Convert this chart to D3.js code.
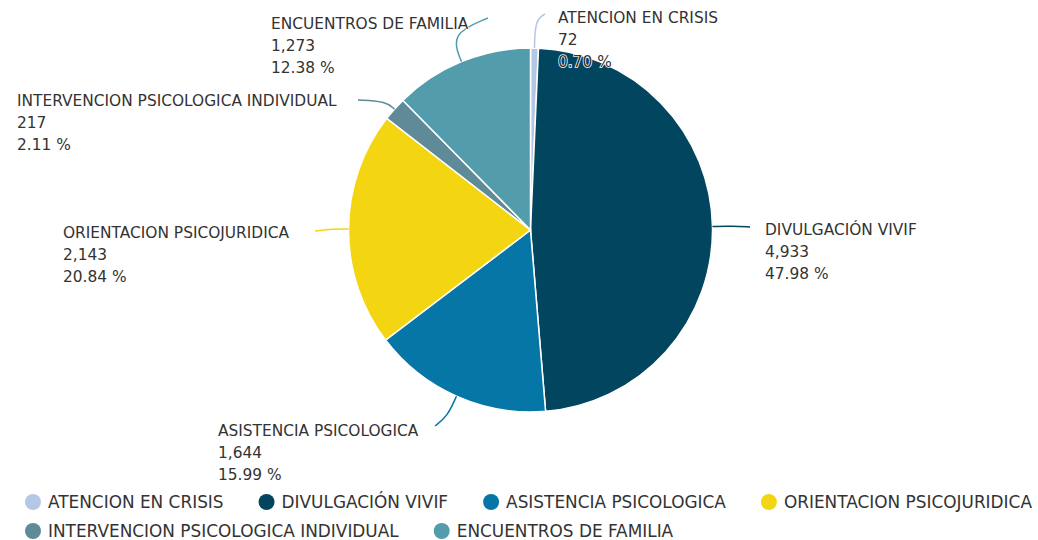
<!DOCTYPE html>
<html><head><meta charset="utf-8">
<script src="https://cdn.jsdelivr.net/npm/d3@7/dist/d3.min.js"></script>
<style>
body{margin:0;background:#fff;}
text{font-family:"DejaVu Sans",sans-serif;fill:#333;}
</style></head>
<body><svg id="chart" width="1038" height="540"></svg>
<script>
const categories = ["ATENCION EN CRISIS","DIVULGACIÓN VIVIF","ASISTENCIA PSICOLOGICA","ORIENTACION PSICOJURIDICA","INTERVENCION PSICOLOGICA INDIVIDUAL","ENCUENTROS DE FAMILIA"];
const values = [72, 4933, 1644, 2143, 217, 1273];
const percents = ["0.70 %","47.98 %","15.99 %","20.84 %","2.11 %","12.38 %"];
const colors = ["#B4C8E6","#01455F","#0676A6","#F4D512","#5E8B97","#529CAB"];

// label layout (annotation positions)
const labelLayout = [
  {ext:28, end:[545,14], tx:558, ty:18},
  {ext:20, end:[750,227], tx:765, ty:230},
  {ext:22, end:[435,426], tx:218, ty:431},
  {ext:16, end:[315,231], tx:63, ty:233},
  {ext:12, end:[358,100], tx:17, ty:101},
  {ext:30, end:[488,18], tx:271, ty:24}
];

const svg = d3.select("#chart");
const cx = 530.5, cy = 230, R = 182;

const pie = d3.pie().sort(null).value(d => d);
const arcs = pie(values);
const arc = d3.arc().innerRadius(0).outerRadius(R);

const g = svg.append("g").attr("transform", `translate(${cx},${cy})`);
g.selectAll("path.slice").data(arcs).enter().append("path")
  .attr("class","slice")
  .attr("d", arc)
  .attr("fill", (d,i) => colors[i])
  .attr("stroke", "#fff").attr("stroke-width", 1.5);

// leaders
const line = d3.line().curve(d3.curveBasis);
arcs.forEach((a,i) => {
  const mid = (a.startAngle + a.endAngle)/2;
  const L = labelLayout[i];
  const p0 = [cx + R*Math.sin(mid), cy - R*Math.cos(mid)];
  const p1 = [cx + (R+L.ext)*Math.sin(mid), cy - (R+L.ext)*Math.cos(mid)];
  svg.append("path").attr("d", line([p0, p1, L.end]))
    .attr("fill","none").attr("stroke", colors[i]).attr("stroke-width", 1.5);
});

// labels
const fmt = d3.format(",");
arcs.forEach((a,i) => {
  const L = labelLayout[i];
  const t = svg.append("text").attr("x", L.tx).attr("y", L.ty).attr("font-size", 15.4)
    .attr("dominant-baseline","middle")
    .attr("stroke","#fff").attr("stroke-width",1.5).attr("paint-order","stroke");
  [categories[i], fmt(values[i]), percents[i]].forEach((s,k) => {
    t.append("tspan").attr("x", L.tx).attr("dy", k===0 ? 0 : 22).text(s);
  });
});

// legend (flow layout)
const leg = svg.append("g");
let lx = 33, ly = 502;
categories.forEach((c,i) => {
  const item = leg.append("g");
  item.append("circle").attr("cx", 0).attr("cy", 0).attr("r", 8).attr("fill", colors[i]);
  const t = item.append("text").attr("x", 15).attr("y", 1).attr("font-size", 16.9)
    .attr("dominant-baseline","middle").text(c);
  const w = 15 + t.node().getComputedTextLength() + 43;
  if (lx + w - 43 > 1038) { lx = 33; ly += 29; }
  item.attr("transform", `translate(${lx},${ly})`);
  lx += w;
});
</script></body></html>
